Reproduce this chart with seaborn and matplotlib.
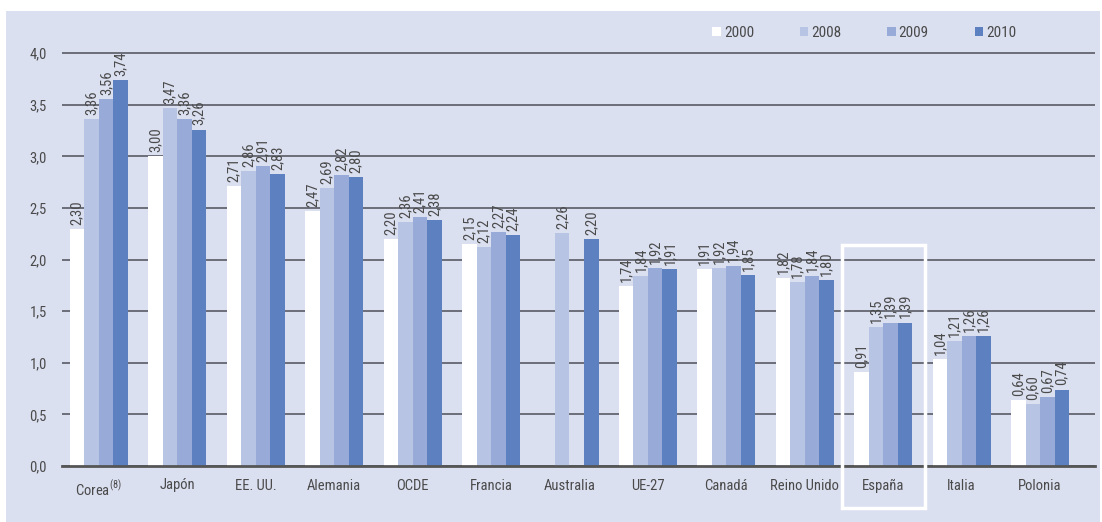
import matplotlib
matplotlib.use('Agg')
import matplotlib.pyplot as plt
from matplotlib.patches import Rectangle
from matplotlib import font_manager
import numpy as np
import pandas as pd
import seaborn as sns

countries = ['Corea$^{(8)}$', 'Japón', 'EE. UU.', 'Alemania', 'OCDE', 'Francia', 'Australia',
             'UE-27', 'Canadá', 'Reino Unido', 'España', 'Italia', 'Polonia']
years = ['2000', '2008', '2009', '2010']
v2000 = [2.30, 3.00, 2.71, 2.47, 2.20, 2.15, np.nan, 1.74, 1.91, 1.82, 0.91, 1.04, 0.64]
v2008 = [3.36, 3.47, 2.86, 2.69, 2.36, 2.12, 2.26, 1.84, 1.92, 1.78, 1.35, 1.21, 0.60]
v2009 = [3.56, 3.36, 2.91, 2.82, 2.41, 2.27, np.nan, 1.92, 1.94, 1.84, 1.39, 1.26, 0.67]
v2010 = [3.74, 3.26, 2.83, 2.80, 2.38, 2.24, 2.20, 1.91, 1.85, 1.80, 1.39, 1.26, 0.74]
colors = ['#ffffff', '#b8c4e4', '#98abd8', '#5d80c0']

df = pd.DataFrame({
    'country': countries * 4,
    'year': [y for y in years for _ in countries],
    'value': v2000 + v2008 + v2009 + v2010,
})

sns.set_style('white')
installed = {f.name for f in font_manager.fontManager.ttflist}
fams = [f for f in ['Roboto Condensed', 'DejaVu Sans Condensed', 'Liberation Sans Narrow']
        if f in installed] + ['DejaVu Sans']
plt.rcParams['font.family'] = fams
plt.rcParams['mathtext.fontset'] = 'custom'
plt.rcParams['mathtext.rm'] = fams[0]
bg = '#dbe0f1'
txt = '#4a4a4a'

fig = plt.figure(figsize=(11.02, 5.22), dpi=100, facecolor='white')
fig.patches.append(Rectangle((6 / 1102, 0), 1094 / 1102, 511 / 522,
                             transform=fig.transFigure, facecolor=bg, edgecolor='none',
                             zorder=-10))
ax = fig.add_axes([62 / 1102, 56 / 522, 1033 / 1102, 454 / 522])
ax.set_facecolor(bg)

sns.barplot(data=df, x='country', y='value', hue='year', hue_order=years, palette=colors,
            width=0.74, errorbar=None, saturation=1, linewidth=0, ax=ax, zorder=3)

for c in ax.containers:
    labels = [f'{b.get_height():.2f}'.replace('.', ',') if not np.isnan(b.get_height()) else ''
              for b in c]
    ax.bar_label(c, labels=labels, rotation=90, padding=3, fontsize=10.5, color=txt)

ax.set_ylim(0, 4.4)
ax.set_xlim(-0.47, 12.70)
ax.set_yticks(np.arange(0, 4.01, 0.5))
ax.set_yticklabels([f'{t:.1f}'.replace('.', ',') for t in np.arange(0, 4.01, 0.5)],
                   fontsize=10.5, color=txt)
ax.tick_params(axis='x', labelsize=10.5, labelcolor=txt, length=0, pad=9)
ax.tick_params(axis='y', length=7, color='#6b6e78', width=1.2, pad=4)
ax.set_xlabel('')
ax.set_ylabel('')
ax.set_axisbelow(True)
ax.yaxis.grid(True, color='#6b6e78', linewidth=1.4, zorder=0)
for s in ['top', 'right', 'left']:
    ax.spines[s].set_visible(False)
ax.spines['bottom'].set_color('#555555')
ax.spines['bottom'].set_linewidth(2)
ax.spines['bottom'].set_zorder(4)

# highlight box around España
ax.add_patch(Rectangle((10 - 0.53, -0.41), 1.06, 2.55, facecolor='none', edgecolor='white',
                       linewidth=2.5, clip_on=False, zorder=5))

leg = ax.legend(ncol=4, loc='center right', bbox_to_anchor=(1030 / 1102, 1 - 33 / 522),
                bbox_transform=fig.transFigure, frameon=False, fontsize=11,
                handlelength=0.55, handleheight=0.55, handletextpad=0.2, columnspacing=3.0)
for t in leg.get_texts():
    t.set_color(txt)

fig.savefig('out.png', dpi=100, facecolor='white')
